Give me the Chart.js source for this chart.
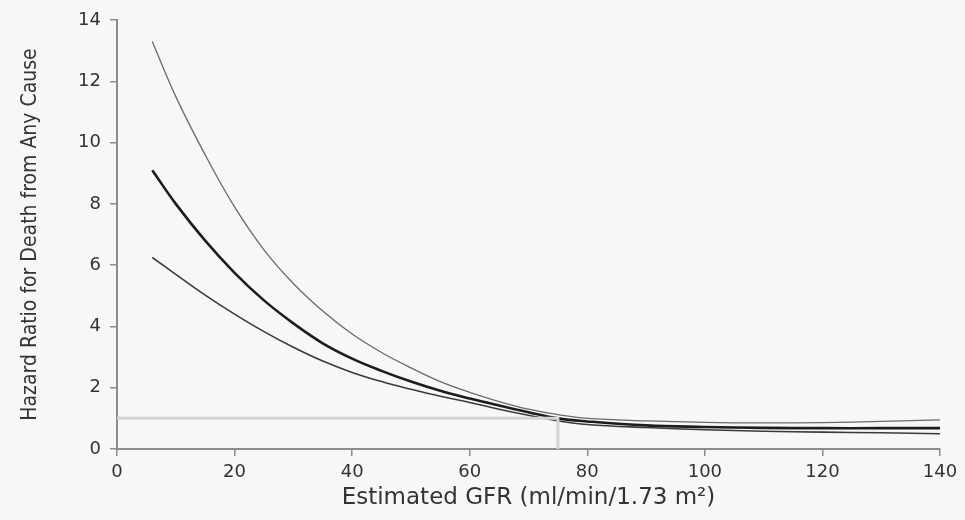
<!DOCTYPE html>
<html>
<head>
<meta charset="utf-8">
<script src="https://cdn.jsdelivr.net/npm/chart.js@4.4.1/dist/chart.umd.min.js"></script>
<style>
  html, body { margin: 0; padding: 0; background: #f7f7f7; }
  #grafico { display: block; }
</style>
</head>
<body>
<canvas id="grafico" width="965" height="520"></canvas>
<script>
// eGFR (ml/min/1.73 m2) where the curves are sampled
const gfr = [6, 10, 15, 20, 25, 30, 35, 40, 45, 50, 55, 60, 65, 70, 75, 80, 90, 100, 110, 120, 130, 140];
// hazard ratio, point estimate
const hrMain = [9.1, 8.0, 6.8, 5.75, 4.85, 4.1, 3.45, 2.95, 2.55, 2.2, 1.9, 1.65, 1.42, 1.2, 1.0, 0.9, 0.77, 0.72, 0.69, 0.68, 0.68, 0.68];
// upper and lower 95% limits
const hrUpper = [13.3, 11.5, 9.6, 7.9, 6.5, 5.4, 4.5, 3.75, 3.15, 2.65, 2.2, 1.85, 1.55, 1.3, 1.12, 1.0, 0.92, 0.87, 0.85, 0.86, 0.9, 0.95];
const hrLower = [6.25, 5.7, 5.02, 4.4, 3.83, 3.32, 2.87, 2.5, 2.2, 1.95, 1.72, 1.52, 1.3, 1.1, 0.92, 0.8, 0.7, 0.63, 0.58, 0.55, 0.53, 0.5];
// reference: HR = 1 at eGFR 75
const refX = [0, 75, 75];
const refY = [1, 1, 0];

const xTicks = [0, 20, 40, 60, 80, 100, 120, 140];
const yTicks = [0, 2, 4, 6, 8, 10, 12, 14];

function pontos(xs, ys) {
    return xs.map((x, i) => ({ x: x, y: ys[i] }));
}

const corEixo = '#8c8c8c';
const corTexto = '#333';

new Chart(document.getElementById('grafico').getContext('2d'), {
    type: 'line',
    data: {
        datasets: [{
            label: 'Referência',
            data: pontos(refX, refY),
            borderColor: '#d4d4d4',
            borderWidth: 3,
            pointRadius: 0,
            tension: 0
        }, {
            label: 'Limite superior',
            data: pontos(gfr, hrUpper),
            borderColor: '#6a6a6a',
            borderWidth: 1.3,
            pointRadius: 0,
            tension: 0.4
        }, {
            label: 'Limite inferior',
            data: pontos(gfr, hrLower),
            borderColor: '#3a3a3a',
            borderWidth: 1.6,
            pointRadius: 0,
            tension: 0.4
        }, {
            label: 'Razão de risco',
            data: pontos(gfr, hrMain),
            borderColor: '#1c1c1c',
            borderWidth: 2.6,
            pointRadius: 0,
            tension: 0.4
        }]
    },
    options: {
        responsive: false,
        animation: false,
        layout: {
            padding: { top: 20, right: 25, left: 0, bottom: 0 }
        },
        plugins: {
            legend: { display: false },
            tooltip: { enabled: false }
        },
        scales: {
            x: {
                type: 'linear',
                min: 0,
                max: 140,
                afterBuildTicks: function(scale) {
                    scale.ticks = xTicks.map(v => ({ value: v }));
                },
                afterFit: function(scale) {
                    scale.height = 71;
                },
                grid: {
                    drawOnChartArea: false,
                    drawTicks: true,
                    tickLength: 7,
                    color: corEixo,
                    lineWidth: 1.5
                },
                border: { display: true, color: corEixo, width: 2 },
                ticks: {
                    color: corTexto,
                    padding: 6,
                    maxRotation: 0,
                    font: { family: 'DejaVu Sans', size: 18 }
                },
                title: {
                    display: true,
                    text: 'Estimated GFR (ml/min/1.73 m²)',
                    color: corTexto,
                    padding: { top: 0, bottom: 8 },
                    font: { family: 'DejaVu Sans', size: 23 }
                }
            },
            y: {
                type: 'linear',
                min: 0,
                max: 14,
                afterBuildTicks: function(scale) {
                    scale.ticks = yTicks.map(v => ({ value: v }));
                },
                afterFit: function(scale) {
                    scale.width = 117;
                },
                grid: {
                    drawOnChartArea: false,
                    drawTicks: true,
                    tickLength: 7,
                    color: corEixo,
                    lineWidth: 1.5
                },
                border: { display: true, color: corEixo, width: 2 },
                ticks: {
                    color: corTexto,
                    padding: 9,
                    font: { family: 'DejaVu Sans', size: 18 }
                },
                title: {
                    display: true,
                    text: 'Hazard Ratio for Death from Any Cause',
                    color: corTexto,
                    padding: { top: 18, bottom: 0 },
                    font: { family: "'Liberation Sans Narrow', 'DejaVu Sans Condensed', sans-serif", size: 21 }
                }
            }
        }
    }
});
</script>
</body>
</html>
